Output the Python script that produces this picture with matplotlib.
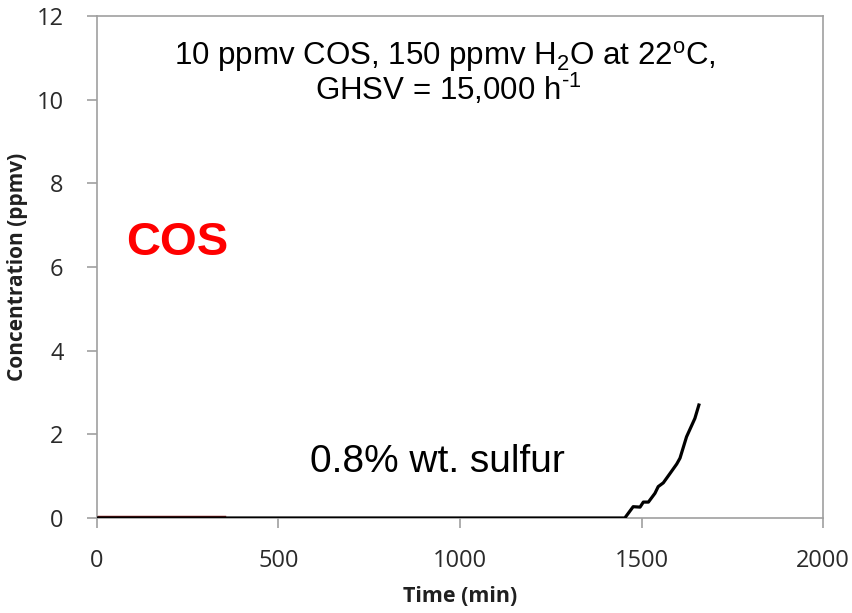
import matplotlib
matplotlib.use("Agg")
import matplotlib.pyplot as plt

plt.rcParams["mathtext.fontset"] = "custom"
plt.rcParams["mathtext.rm"] = "Liberation Sans"
plt.rcParams["mathtext.it"] = "Liberation Sans:italic"

# breakthrough curve
time_min = [0, 350, 700, 1000, 1300, 1454, 1477, 1496, 1505, 1519, 1537, 1546,
            1560, 1579, 1597, 1606, 1624, 1647, 1658]
conc_ppmv = [0, 0, 0, 0, 0, 0, 0.27, 0.26, 0.38, 0.38, 0.59, 0.75,
             0.84, 1.07, 1.29, 1.43, 1.94, 2.38, 2.70]
# short dark-red trace hidden under the black line at the start
early_time = [0, 350]
early_conc = [0, 0]

x_ticks = [0, 500, 1000, 1500, 2000]
y_ticks = [0, 2, 4, 6, 8, 10, 12]

fig = plt.figure(figsize=(8.52, 6.13), dpi=100)
ax = fig.add_axes([0.1138, 0.155, 0.8522, 0.819])

ax.plot(early_time, early_conc, color="#8b1a1a", lw=3.2, zorder=2)
ax.plot(time_min, conc_ppmv, color="black", lw=2.3, zorder=3)

ax.set_xlim(0, 2000)
ax.set_ylim(0, 12)
tick_font = dict(fontsize=17, family="Open Sans", color="#2a2a2a")
ax.set_xticks(x_ticks, [str(v) for v in x_ticks], **tick_font)
ax.set_yticks(y_ticks, [str(v) for v in y_ticks], **tick_font)

gray = "#a0a0a0"
for s in ax.spines.values():
    s.set_color(gray)
    s.set_linewidth(1.2)
ax.tick_params(axis="both", direction="out", length=7, width=1.2, color=gray)
ax.tick_params(axis="x", pad=15)
ax.tick_params(axis="y", pad=17)

ax.set_xlabel("Time (min)", fontsize=15.5, fontweight="bold", family="Open Sans",
              color="#202020", labelpad=10)
ax.set_ylabel("Concentration (ppmv)", fontsize=15, fontweight="bold", family="Open Sans",
              color="#202020", labelpad=6)

ax.text(0.479, 0.9024, "10 ppmv COS, 150 ppmv H$_2$O at 22$^\\mathrm{o}$C,",
        transform=ax.transAxes, ha="center", va="baseline", fontsize=22.5,
        family="Liberation Sans")
ax.text(0.484, 0.8327, "GHSV = 15,000 h$^{\u20101}$",
        transform=ax.transAxes, ha="center", va="baseline", fontsize=22.5,
        family="Liberation Sans")
ax.text(0.04, 0.547, "COS", transform=ax.transAxes, ha="left", va="center",
        fontsize=34, fontweight="bold", color="#ff0000", family="Liberation Sans")
ax.text(0.469, 0.111, "0.8% wt. sulfur", transform=ax.transAxes, ha="center",
        va="center", fontsize=28, family="Liberation Sans")

fig.savefig("out.png", dpi=100)
